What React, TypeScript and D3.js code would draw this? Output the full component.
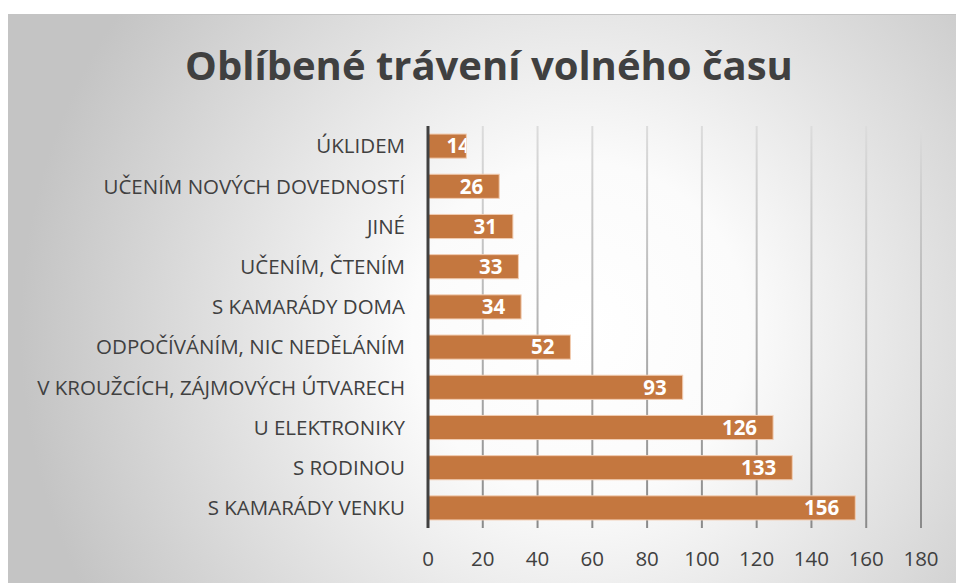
import React, { useRef, useEffect } from "react";
import * as d3 from "d3";

const categories = [
  "ÚKLIDEM",
  "UČENÍM NOVÝCH DOVEDNOSTÍ",
  "JINÉ",
  "UČENÍM, ČTENÍM",
  "S KAMARÁDY DOMA",
  "ODPOČÍVÁNÍM, NIC NEDĚLÁNÍM",
  "V KROUŽCÍCH, ZÁJMOVÝCH ÚTVARECH",
  "U ELEKTRONIKY",
  "S RODINOU",
  "S KAMARÁDY VENKU",
];
const values = [14, 26, 31, 33, 34, 52, 93, 126, 133, 156];
const ticks = [0, 20, 40, 60, 80, 100, 120, 140, 160, 180];
const title = "Oblíbené trávení volného času";

export default function App() {
  const ref = useRef<SVGSVGElement | null>(null);

  useEffect(() => {
    if (!ref.current) return;
    const width = 956;
    const height = 583;
    const margin = { top: 126, right: 35, bottom: 55, left: 428 };

    const svg = d3.select(ref.current);
    svg.selectAll("*").remove();

    const defs = svg.append("defs");
    // background: white in the middle, grey towards the edges
    const bg = defs.append("radialGradient")
      .attr("id", "bg")
      .attr("gradientUnits", "userSpaceOnUse")
      .attr("cx", 580).attr("cy", 330).attr("r", 560);
    bg.append("stop").attr("offset", "0%").attr("stop-color", "#ffffff");
    bg.append("stop").attr("offset", "30%").attr("stop-color", "#fbfbfb");
    bg.append("stop").attr("offset", "100%").attr("stop-color", "#c4c4c4");

    const grid = defs.append("linearGradient")
      .attr("id", "grid")
      .attr("gradientUnits", "userSpaceOnUse")
      .attr("x1", 0).attr("y1", margin.top)
      .attr("x2", 0).attr("y2", height - margin.bottom);
    grid.append("stop").attr("offset", "0%").attr("stop-color", "#dcdcdc");
    grid.append("stop").attr("offset", "100%").attr("stop-color", "#8a8a8a");

    svg.append("rect")
      .attr("x", 8.5).attr("y", 14.5)
      .attr("width", width).attr("height", height)
      .attr("fill", "url(#bg)")
      .attr("stroke", "#c4c4c4");

    const x = d3.scaleLinear()
      .domain([0, 180])
      .range([margin.left, width - margin.right]);

    const y = d3.scaleBand()
      .domain(categories)
      .range([margin.top, height - margin.bottom])
      .paddingInner(0.4)
      .paddingOuter(0.2);

    svg.append("text")
      .attr("x", 489)
      .attr("y", 80)
      .attr("text-anchor", "middle")
      .attr("font-family", "Open Sans")
      .attr("font-weight", 700)
      .attr("font-size", 40)
      .attr("fill", "#404040")
      .text(title);

    // gridlines
    svg.append("g")
      .selectAll("line")
      .data(ticks.slice(1))
      .join("line")
        .attr("x1", d => x(d)).attr("x2", d => x(d))
        .attr("y1", margin.top).attr("y2", height - margin.bottom)
        .attr("stroke", "url(#grid)")
        .attr("stroke-width", 2);

    // bars
    svg.append("g")
      .selectAll("rect")
      .data(values)
      .join("rect")
        .attr("x", x(0))
        .attr("y", (d, i) => y(categories[i])!)
        .attr("width", d => x(d) - x(0))
        .attr("height", y.bandwidth())
        .attr("fill", "#c4773f")
        .attr("stroke", "#f2cdb2")
        .attr("stroke-width", 1);

    // value labels, clipped to their bar
    const clips = defs.selectAll("clipPath.bar")
      .data(values)
      .join("clipPath")
        .attr("class", "bar")
        .attr("id", (d, i) => `clip${i}`);
    clips.append("rect")
      .attr("x", x(0))
      .attr("y", (d, i) => y(categories[i])!)
      .attr("width", d => x(d) - x(0))
      .attr("height", y.bandwidth());

    svg.append("g")
      .attr("fill", "#ffffff")
      .attr("text-anchor", "end")
      .attr("font-family", "Open Sans")
      .attr("font-weight", 700)
      .attr("font-size", 20.5)
      .selectAll("text")
      .data(values)
      .join("text")
        .attr("clip-path", (d, i) => `url(#clip${i})`)
        .attr("x", d => Math.max(x(d) - 16, x(0) + 42))
        .attr("y", (d, i) => y(categories[i])! + y.bandwidth() / 2)
        .attr("dy", "0.36em")
        .text(d => d);

    // y axis line
    svg.append("line")
      .attr("x1", x(0)).attr("x2", x(0))
      .attr("y1", margin.top).attr("y2", height - margin.bottom)
      .attr("stroke", "#404040")
      .attr("stroke-width", 3);

    // category labels
    svg.append("g")
      .attr("fill", "#404040")
      .attr("text-anchor", "end")
      .attr("font-family", "Open Sans")
      .attr("font-size", 20.5)
      .selectAll("text")
      .data(categories)
      .join("text")
        .attr("x", 405)
        .attr("y", d => y(d)! + y.bandwidth() / 2)
        .attr("dy", "0.36em")
        .text(d => d);

    // tick labels
    svg.append("g")
      .attr("fill", "#404040")
      .attr("text-anchor", "middle")
      .attr("font-family", "Open Sans")
      .attr("font-size", 20.5)
      .selectAll("text")
      .data(ticks)
      .join("text")
        .attr("x", d => x(d))
        .attr("y", 566)
        .text(d => d);
  }, []);

  return (
    <svg
      ref={ref}
      width={956}
      height={583}
      style={{ position: "absolute", left: 0, top: 0, display: "block" }}
    />
  );
}
